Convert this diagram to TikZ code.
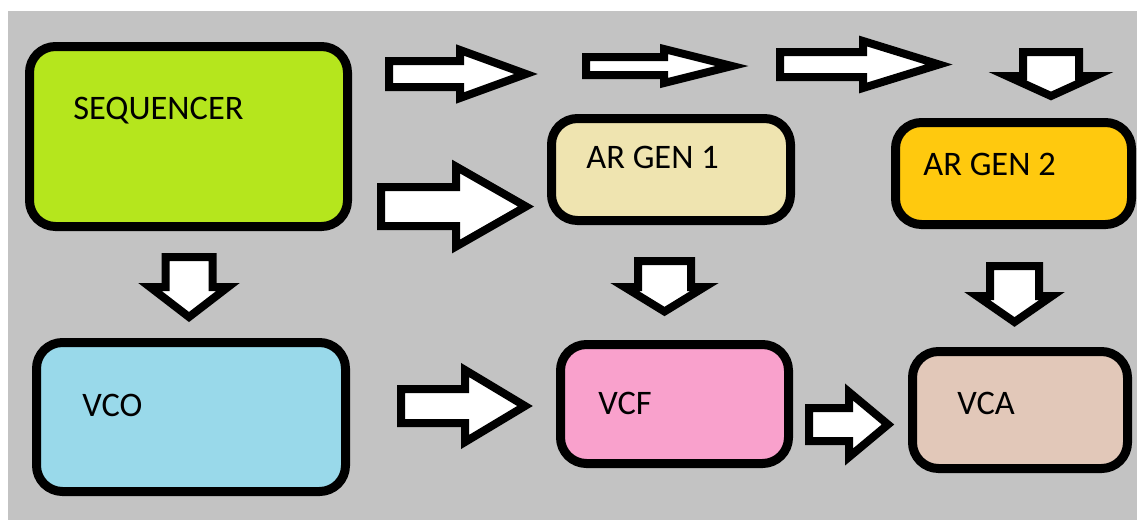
\documentclass[tikz,border=0pt]{standalone}
\usepackage{fontspec}
\setmainfont{Carlito}
\usetikzlibrary{positioning}

\definecolor{bggray}{HTML}{C3C3C3}
\definecolor{seqgreen}{HTML}{B5E61D}
\definecolor{gencream}{HTML}{EFE4B0}
\definecolor{gengold}{HTML}{FFC90E}
\definecolor{vcoblue}{HTML}{99D9EA}
\definecolor{vcfpink}{HTML}{F9A1CC}
\definecolor{vcatan}{HTML}{E2C8B9}

\tikzset{
	box/.style = {draw, line width = 4.5pt, rounded corners = 13pt, inner sep = 0pt},
	blockarrow/.style = {draw, fill = white, line width = 4pt},
	lbl/.style = {anchor = base west, inner sep = 0pt, font = \fontsize{17.2}{20}\selectfont}
}

% block arrows: tail, head base, tip, centre, shaft half width, head half width
\newcommand{\rightblock}[6]{\draw[blockarrow] (#1,#4-#5) -- (#2,#4-#5) -- (#2,#4-#6) -- (#3,#4) -- (#2,#4+#6) -- (#2,#4+#5) -- (#1,#4+#5) -- cycle;}
\newcommand{\downblock}[6]{\draw[blockarrow] (#4-#5,#1) -- (#4-#5,#2) -- (#4-#6,#2) -- (#4,#3) -- (#4+#6,#2) -- (#4+#5,#2) -- (#4+#5,#1) -- cycle;}

\begin{document}
\begin{tikzpicture} [x = 0.5pt, y = -0.5pt]
	\useasboundingbox (0,0) rectangle (1137,520);
	\fill [bggray] (8,11) rectangle (1137,520);

	% modules
	\node [box, fill = seqgreen, minimum width = 159pt, minimum height = 90pt] (seq) at (188.5,136.5) {};
	\node [box, fill = vcoblue, minimum width = 154.5pt, minimum height = 74.5pt] (vco) at (191,417) {};
	\node [box, fill = gencream, minimum width = 119.5pt, minimum height = 51pt] (gen1) at (671,169.5) {};
	\node [box, fill = gengold, minimum width = 118pt, minimum height = 51pt] (gen2) at (1013.5,173.5) {};
	\node [box, fill = vcfpink, minimum width = 114pt, minimum height = 59.5pt] (vcf) at (674.5,404) {};
	\node [box, fill = vcatan, minimum width = 107.5pt, minimum height = 58.5pt] (vca) at (1020,410) {};

	\node [lbl] (seqtxt) at (73,119) {SEQUENCER};
	\node [lbl] (vcotxt) at (82,416) {VCO};
	\node [lbl] (gen1txt) at (586,168) {AR GEN 1};
	\node [lbl] (gen2txt) at (923,175) {AR GEN 2};
	\node [lbl] (vcftxt) at (598,414) {VCF};
	\node [lbl] (vcatxt) at (957,414) {VCA};

	% trigger line along the top
	\rightblock{389}{460}{526}{74}{13}{24}
	\rightblock{586}{664}{732}{66}{9}{17}
	\rightblock{780}{863}{939}{64.5}{12.5}{23.5}
	\downblock{52}{76}{96}{1051}{28}{44}

	% signal path
	\rightblock{381}{456}{526}{206.5}{19.5}{40}
	\downblock{257}{287}{317}{189}{23.5}{39}
	\downblock{261}{287}{311.5}{664.5}{26.5}{40}
	\downblock{266}{296}{322}{1014.5}{24.5}{37.5}
	\rightblock{401}{465}{525}{406}{17}{36}
	\rightblock{809}{849}{888}{424.5}{16.5}{32.5}
\end{tikzpicture}
\end{document}
